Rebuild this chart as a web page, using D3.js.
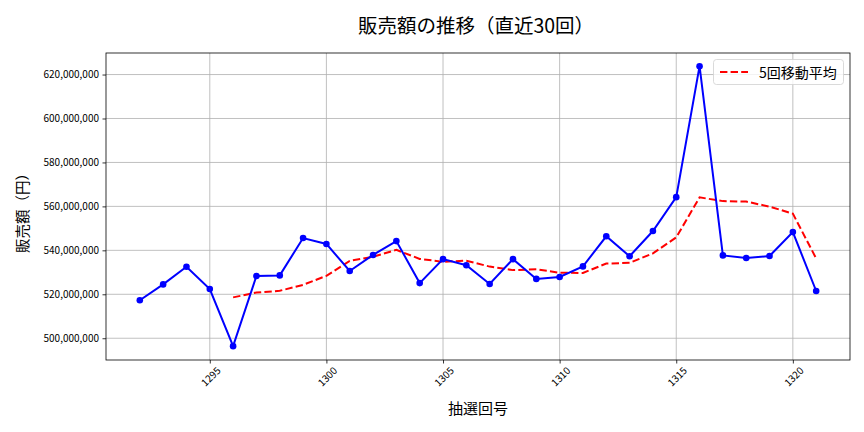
<!DOCTYPE html>
<html><head><meta charset="utf-8">
<script src="https://cdn.jsdelivr.net/npm/d3@7"></script>
<style>
html,body{margin:0;padding:0;background:#fff;}
text{font-family:"Noto Sans CJK JP","Noto Sans",sans-serif;}
</style></head>
<body>
<svg id="chart" width="864" height="432"></svg>
<script>
const draws = [1292,1293,1294,1295,1296,1297,1298,1299,1300,1301,1302,1303,1304,1305,1306,1307,1308,1309,1310,1311,1312,1313,1314,1315,1316,1317,1318,1319,1320,1321];
const sales = [517.3,524.5,532.5,522.4,496.4,528.3,528.6,545.6,542.9,530.6,537.9,544.2,525.1,536.0,533.2,524.7,536.0,527.0,527.9,532.7,546.4,537.3,548.8,564.2,623.8,537.7,536.5,537.4,548.3,521.5].map(v => v * 1e6);
const maDraws = [1296,1297,1298,1299,1300,1301,1302,1303,1304,1305,1306,1307,1308,1309,1310,1311,1312,1313,1314,1315,1316,1317,1318,1319,1320,1321];
const maValues = [518.6,520.8,521.6,524.3,528.4,535.2,537.1,540.2,536.1,534.8,535.3,532.6,531.0,531.4,529.8,529.7,534.0,534.3,538.6,545.9,564.1,562.4,562.2,559.9,556.7,536.3].map(v => v * 1e6);
const xTicks = [1295,1300,1305,1310,1315,1320];
const yTicks = [500e6,520e6,540e6,560e6,580e6,600e6,620e6];
const titleText = "販売額の推移（直近30回）";
const xLabel = "抽選回号";
const yLabel = "販売額（円）";
const legendLabel = "5回移動平均";

const svg = d3.select("#chart");
const L = 106, R = 850, T = 53, B = 360;
const x = d3.scaleLinear().domain([1290.55, 1322.45]).range([L, R]);
const y = d3.scaleLinear().domain([490.1e6, 629.8e6]).range([B, T]);

// grid
svg.append("g").selectAll("line").data(xTicks).join("line")
  .attr("x1", d => x(d)).attr("x2", d => x(d)).attr("y1", T).attr("y2", B)
  .attr("stroke", "#b0b0b0").attr("stroke-width", 0.8);
svg.append("g").selectAll("line").data(yTicks).join("line")
  .attr("x1", L).attr("x2", R).attr("y1", d => y(d)).attr("y2", d => y(d))
  .attr("stroke", "#b0b0b0").attr("stroke-width", 0.8);

// axes
const fmt = d3.format(",");
const yAxis = svg.append("g").attr("transform", `translate(${L},0)`)
  .call(d3.axisLeft(y).tickValues(yTicks).tickFormat(d => fmt(d)).tickSize(3.5).tickPadding(3.5));
yAxis.select(".domain").remove();
yAxis.selectAll("text").attr("font-size", 10).attr("fill", "#000")
  .style("font-family", '"Noto Sans CJK JP", sans-serif');
yAxis.selectAll("line").attr("stroke", "#000").attr("stroke-width", 0.8);

const xAxis = svg.append("g").attr("transform", `translate(0,${B})`)
  .call(d3.axisBottom(x).tickValues(xTicks).tickFormat(d => String(d)).tickSize(3.5));
xAxis.select(".domain").remove();
xAxis.selectAll("line").attr("stroke", "#000").attr("stroke-width", 0.8);
xAxis.selectAll("text")
  .attr("font-size", 10).attr("fill", "#000")
  .attr("y", null).attr("dy", null)
  .attr("text-anchor", "middle").attr("dominant-baseline", "central")
  .attr("transform", "translate(0,16) rotate(-45)")
  .style("font-family", '"Noto Sans CJK JP", sans-serif');

// lines
const line = d3.line().x(d => x(d[0])).y(d => y(d[1]));
const mainData = draws.map((d, i) => [d, sales[i]]);
const maData = maDraws.map((d, i) => [d, maValues[i]]);

svg.append("path").datum(maData).attr("d", line)
  .attr("fill", "none").attr("stroke", "#ff0000").attr("stroke-width", 2)
  .attr("stroke-dasharray", "7.4,3.2");

svg.append("path").datum(mainData).attr("d", line)
  .attr("fill", "none").attr("stroke", "#0000ff").attr("stroke-width", 2);
svg.append("g").selectAll("circle").data(mainData).join("circle")
  .attr("cx", d => x(d[0])).attr("cy", d => y(d[1])).attr("r", 3.3)
  .attr("fill", "#0000ff");

// frame
svg.append("rect").attr("x", L).attr("y", T).attr("width", R - L).attr("height", B - T)
  .attr("fill", "none").attr("stroke", "#000").attr("stroke-width", 0.8);

// legend
const lg = svg.append("g");
lg.append("rect").attr("x", 713.5).attr("y", 59.5).attr("width", 130).attr("height", 25)
  .attr("rx", 3).attr("fill", "#fff").attr("fill-opacity", 0.8)
  .attr("stroke", "#d0d0d0").attr("stroke-width", 0.8);
lg.append("line").attr("x1", 720).attr("x2", 748).attr("y1", 72).attr("y2", 72)
  .attr("stroke", "#ff0000").attr("stroke-width", 2).attr("stroke-dasharray", "7.4,3.2");
lg.append("text").attr("x", 759).attr("y", 72).attr("dominant-baseline", "central")
  .attr("font-size", 14).attr("fill", "#000").text(legendLabel);

// titles
svg.append("text").attr("x", (L + R) / 2 - 2).attr("y", 24).attr("text-anchor", "middle")
  .attr("dominant-baseline", "central").attr("font-size", 19.5).attr("font-weight", 400)
  .attr("fill", "#000").text(titleText);
svg.append("text").attr("x", (L + R) / 2).attr("y", 407).attr("text-anchor", "middle")
  .attr("dominant-baseline", "central").attr("font-size", 15).attr("fill", "#000").text(xLabel);
svg.append("text").attr("transform", `translate(21,${(T + B) / 2 + 3}) rotate(-90)`)
  .attr("text-anchor", "middle").attr("dominant-baseline", "central")
  .attr("font-size", 14.5).attr("fill", "#000").text(yLabel);
</script>
</body></html>
